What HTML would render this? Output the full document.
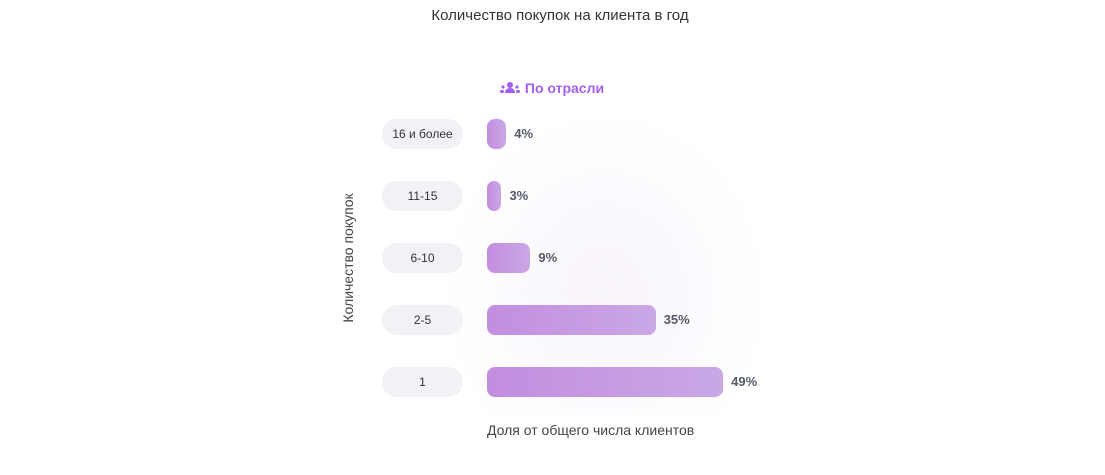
<!DOCTYPE html>
<html><head><meta charset="utf-8"><style>
body{margin:0;width:1105px;height:475px;background:#fff;font-family:"Liberation Sans","Noto Sans CJK SC",sans-serif;overflow:hidden;position:relative}
.t{position:absolute;white-space:nowrap}
</style></head><body>
<div class="t" style="left:0;width:1120px;text-align:center;top:7px;font-size:15px;color:#333">Количество покупок на клиента в год</div>
<div class="t" style="left:499px;top:80px;font-size:14px;font-weight:bold;color:#a35ff0">
<svg width="22" height="14" viewBox="0 0 22 14" style="vertical-align:-2px"><circle cx="11" cy="4" r="3" fill="#a35ff0"/><path d="M6 12c0-3 2-5 5-5s5 2 5 5z" fill="#a35ff0"/><circle cx="4" cy="6" r="1.6" fill="#a35ff0"/><circle cx="18" cy="6" r="1.6" fill="#a35ff0"/><rect x="1" y="9" width="4" height="3" rx="1.5" fill="#a35ff0"/><rect x="17" y="9" width="4" height="3" rx="1.5" fill="#a35ff0"/></svg> По отрасли</div>
<div class="t" style="left:348px;top:258px;font-size:14px;color:#444;transform:translate(-50%,-50%) rotate(-90deg)">Количество покупок</div>
<div class="t" style="left:487px;top:422px;font-size:14px;color:#444">Доля от общего числа клиентов</div>
<div id="glow" style="position:absolute;left:440px;top:110px;width:330px;height:305px;background:radial-gradient(ellipse at 50% 60%,rgba(200,160,230,0.12),rgba(255,255,255,0) 70%)"></div>
<div id="chart"></div>
<script>
const categories=["16 и более","11-15","6-10","2-5","1"];
const values=[4,3,9,35,49];
const x0=487, pxPer=4.82, y0=134, step=62, barH=30;
function xs(v){return v*pxPer;}
function yc(i){return y0+i*step;}
const c=document.getElementById('chart');
categories.forEach((cat,i)=>{
 const p=document.createElement('div');
 
 
 p.style.cssText=`position:absolute;left:382px;top:${yc(i)-15}px;width:81px;height:30px;border-radius:15px;background:#f1f2f6;font-size:12px;color:#333;text-align:center;line-height:30px`;
 p.textContent=cat;c.appendChild(p);
 const b=document.createElement('div');
 
 
 const w=xs(values[i]);
 b.style.cssText=`position:absolute;left:${x0}px;top:${yc(i)-barH/2}px;width:${w}px;height:${barH}px;border-radius:${Math.min(8,w/2)}px;background:linear-gradient(90deg,#c38ddf,#c9a8e6)`;
 c.appendChild(b);
 const l=document.createElement('div');
 
 
 l.style.cssText=`position:absolute;left:${x0+w+8}px;top:${yc(i)-8}px;font-size:13px;font-weight:bold;color:#555a66;white-space:nowrap`;
 l.textContent=values[i]+'%';c.appendChild(l);
});
</script>
</body></html>
